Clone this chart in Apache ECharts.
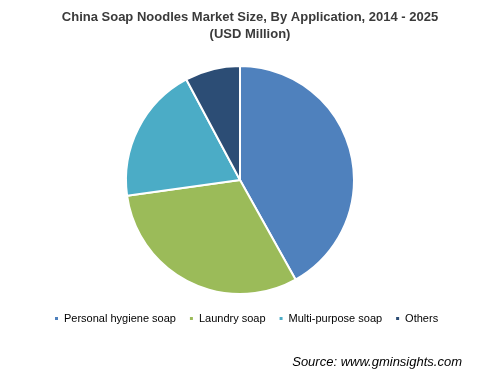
<!DOCTYPE html>
<html>
<head>
<meta charset="utf-8">
<script src="https://cdn.jsdelivr.net/npm/echarts@6/dist/echarts.min.js"></script>
<style>
html,body{margin:0;padding:0;background:#fff;}
#chart{width:500px;height:373px;}
</style>
</head>
<body>
<div id="chart"></div>
<script>
var categories = ["Personal hygiene soap", "Laundry soap", "Multi-purpose soap", "Others"];
var values = [41.9, 30.9, 19.4, 7.8];
var colors = ["#4F81BD", "#9BBB59", "#4BACC6", "#2C4D75"];
var titleText = "China Soap Noodles Market Size, By Application, 2014 - 2025\n(USD Million)";
var sourceText = "Source: www.gminsights.com";

var chart = echarts.init(document.getElementById('chart'), null, {renderer: 'canvas'});
var data = categories.map(function (c, i) {
  return {name: c, value: values[i], itemStyle: {color: colors[i]}};
});
chart.setOption({
  animation: false,
  title: {
    text: titleText,
    left: 'center',
    top: 4,
    textStyle: {
      fontFamily: 'Liberation Sans, Arial, sans-serif',
      fontSize: 13,
      fontWeight: 'bold',
      color: '#3a3a3a',
      lineHeight: 17
    }
  },
  legend: {
    data: categories,
    left: 48,
    top: 308,
    icon: 'rect',
    itemWidth: 5,
    itemHeight: 5,
    itemGap: 12,
    textStyle: {
      fontFamily: 'Liberation Sans, Arial, sans-serif',
      fontSize: 11,
      color: '#000'
    }
  },
  graphic: [{
    type: 'text',
    right: 38,
    top: 356,
    style: {
      text: sourceText,
      font: 'italic 13px "Liberation Sans", Arial, sans-serif',
      fill: '#000'
    }
  }],
  series: [{
    type: 'pie',
    center: [240, 180],
    radius: [0, 114],
    startAngle: 90,
    clockwise: true,
    label: {show: false},
    labelLine: {show: false},
    emphasis: {disabled: true},
    itemStyle: {borderColor: '#fff', borderWidth: 2},
    data: data
  }]
});
</script>
</body>
</html>
